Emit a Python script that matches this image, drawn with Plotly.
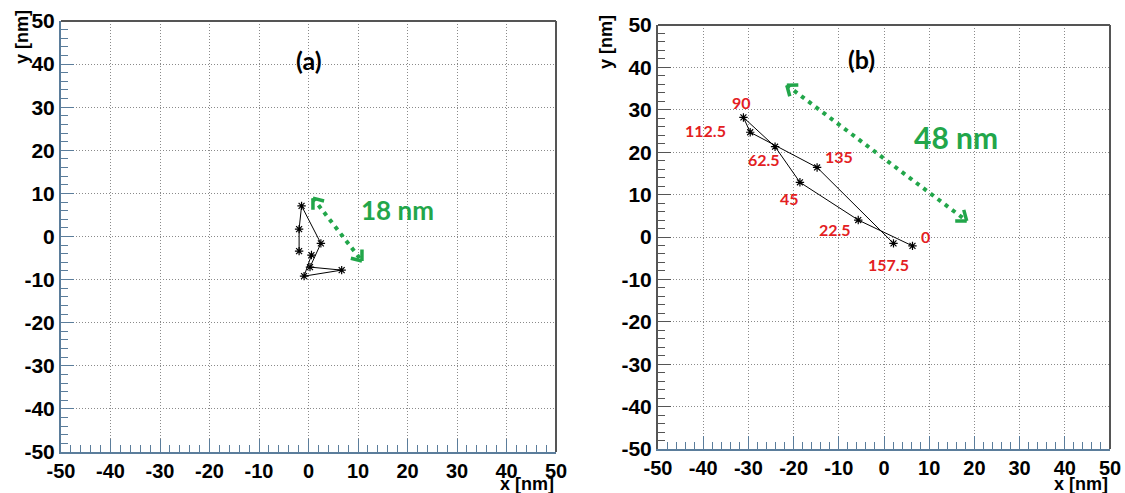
import numpy as np
import plotly.graph_objects as go

W, H = 1125, 493

# ---------------- data ----------------
# panel (a): measured positions (nm), in acquisition order
xa = [-1.9, -1.9, -1.4, 2.5, 0.3, 6.7, -0.9, 0.6]
ya = [-3.4, 1.7, 7.1, -1.6, -7.1, -7.8, -9.2, -4.3]

# panel (b): measured positions (nm), in angle order
angles_b = ["0", "22.5", "45", "62.5", "90", "112.5", "135", "157.5"]
xb = [6.3, -5.7, -18.6, -24.1, -31.1, -29.6, -14.8, 2.1]
yb = [-2.1, 4.0, 12.9, 21.3, 28.2, 24.7, 16.4, -1.5]
# label positions for the angle texts (nm)
lab_x = [9.2, -10.8, -20.8, -26.6, -31.6, -39.4, -10.0, 1.0]
lab_y = [0.2, 1.7, 9.1, 18.3, 31.8, 25.0, 19.0, -6.6]

# double arrows (nm): [x_start, y_start, x_end, y_end]
arrow_a = [0.9, 8.9, 10.8, -5.7]
arrow_b = [-21.5, 35.8, 18.3, 3.8]
size_a = "18 nm"
size_b = "48 nm"

tick_vals = list(range(-50, 51, 10))
tick_text = ["<b>%d</b>" % v for v in tick_vals]

# ---------------- layout geometry (pixels) ----------------
PA = dict(x0=61, x1=556, y0=21, y1=452)
PB = dict(x0=658, x1=1110, y0=25, y1=449)

GREEN = "#22a64a"
RED = "#e3201f"
BLUE_AX = "#5b7d9b"

fig = go.Figure()

star = dict(symbol="asterisk-open", size=7, color="black",
            line=dict(color="black", width=1.2))
fig.add_trace(go.Scatter(x=xa, y=ya, mode="lines+markers",
                         line=dict(color="black", width=1), marker=star,
                         xaxis="x", yaxis="y", showlegend=False))
fig.add_trace(go.Scatter(x=xb, y=yb, mode="lines+markers",
                         line=dict(color="black", width=1), marker=star,
                         xaxis="x2", yaxis="y2", showlegend=False))

# dotted arrow shafts
for arr, xr, yr in [(arrow_a, "x", "y"), (arrow_b, "x2", "y2")]:
    fig.add_trace(go.Scatter(x=[arr[0], arr[2]], y=[arr[1], arr[3]], mode="lines",
                             line=dict(color=GREEN, width=4, dash="4px,5px"),
                             xaxis=xr, yaxis=yr, showlegend=False, hoverinfo="skip"))


def dom(p):
    return ([p["x0"] / W, p["x1"] / W], [1 - p["y1"] / H, 1 - p["y0"] / H])


def axis_common(color_x, color_y, size):
    tf = dict(family="Liberation Sans, Arial", size=size, color="black")
    ax = dict(range=[-50, 50], tickvals=tick_vals, ticktext=tick_text,
              ticks="inside", ticklen=13, automargin=False,
              tickwidth=1, showgrid=True, gridcolor="#8a8a8a", griddash="1px,2px",
              gridwidth=1, zeroline=False, showline=True, linewidth=2,
              tickfont=tf, fixedrange=True,
              minor=dict(ticks="inside", ticklen=7, dtick=2, tick0=0, showgrid=False))
    x = dict(ax, linecolor=color_x, tickcolor=color_x)
    x["minor"] = dict(ax["minor"], tickcolor=color_x)
    y = dict(ax, linecolor=color_y, tickcolor=color_y, tickfont=dict(tf, size=21))
    y["minor"] = dict(ax["minor"], tickcolor=color_y)
    return x, y


xdA, ydA = dom(PA)
xdB, ydB = dom(PB)
xA, yA = axis_common(BLUE_AX, BLUE_AX, 20)
xB, yB = axis_common(BLUE_AX, "#555555", 20)

fig.update_layout(
    width=W, height=H, margin=dict(l=0, r=0, t=0, b=0, autoexpand=False),
    paper_bgcolor="white", plot_bgcolor="white",
    xaxis=dict(xA, domain=xdA, anchor="y"),
    yaxis=dict(yA, domain=ydA, anchor="x"),
    xaxis2=dict(xB, domain=xdB, anchor="y2"),
    yaxis2=dict(yB, domain=ydB, anchor="x2"),
)

# top / right frame lines
for xr, yr in [("x", "y"), ("x2", "y2")]:
    fig.add_shape(type="line", xref=xr + " domain", yref=yr + " domain",
                  x0=0, x1=1, y0=1, y1=1, line=dict(color="#555555", width=2))
    fig.add_shape(type="line", xref=xr + " domain", yref=yr + " domain",
                  x0=1, x1=1, y0=0, y1=1, line=dict(color="#555555", width=2))

ann = []
title_font = dict(family="Liberation Sans, Arial", size=18, color="black")
# axis titles
ann.append(dict(text="<b>y [nm]</b>", xref="paper", yref="paper", x=22 / W, y=1 - 37 / H,
                xanchor="center", yanchor="middle",
                showarrow=False, textangle=-90, font=title_font))
ann.append(dict(text="<b>y [nm]</b>", xref="paper", yref="paper", x=606 / W, y=1 - 42 / H,
                xanchor="center", yanchor="middle",
                showarrow=False, textangle=-90, font=title_font))
ann.append(dict(text="<b>x [nm]</b>", xref="paper", yref="paper", x=556 / W, y=0.0,
                xanchor="right", yanchor="bottom", yshift=-3, showarrow=False, font=title_font))
ann.append(dict(text="<b>x [nm]</b>", xref="paper", yref="paper", x=1110 / W, y=0.0,
                xanchor="right", yanchor="bottom", yshift=-3, showarrow=False, font=title_font))

lab_font = dict(family="Lato, Open Sans", size=25, color="black")
ann.append(dict(text="<b>(a)</b>", x=0.0, y=41.0, xref="x", yref="y", showarrow=False, font=lab_font))
ann.append(dict(text="<b>(b)</b>", x=-5.0, y=42.0, xref="x2", yref="y2", showarrow=False, font=lab_font))
ann.append(dict(text="<b>%s</b>" % size_a, x=18.0, y=6.2, xref="x", yref="y", showarrow=False,
                font=dict(family="Lato, Open Sans", size=26, color=GREEN)))
ann.append(dict(text="<b>%s</b>" % size_b, x=15.9, y=23.5, xref="x2", yref="y2", showarrow=False,
                font=dict(family="Lato, Open Sans", size=30, color=GREEN)))

for t, lx, ly in zip(angles_b, lab_x, lab_y):
    ann.append(dict(text="<b>%s</b>" % t, x=lx, y=ly, xref="x2", yref="y2", showarrow=False,
                    font=dict(family="Lato, Open Sans", size=16, color=RED)))


# chevron arrowheads at both ends of each double arrow
def chevrons(arr, p, xr, yr):
    sx = (p["x1"] - p["x0"]) / 100.0
    sy = (p["y1"] - p["y0"]) / 100.0
    out = []
    ends = [((arr[2], arr[3]), (arr[0], arr[1])), ((arr[0], arr[1]), (arr[2], arr[3]))]
    for (tx, ty), (fx, fy) in ends:
        dx = (tx - fx) * sx
        dy = -(ty - fy) * sy
        n = np.hypot(dx, dy)
        ux, uy = -dx / n, -dy / n
        for ang in (np.radians(38), -np.radians(38)):
            c, s = np.cos(ang), np.sin(ang)
            vx = ux * c - uy * s
            vy = ux * s + uy * c
            out.append(dict(x=tx, y=ty, xref=xr, yref=yr, ax=vx * 13, ay=vy * 13,
                            text="", showarrow=True, arrowhead=0, arrowwidth=3.5,
                            arrowcolor=GREEN, standoff=0, startstandoff=0))
    return out


ann += chevrons(arrow_a, PA, "x", "y")
ann += chevrons(arrow_b, PB, "x2", "y2")

fig.update_layout(annotations=ann)
fig.write_html("out.html", config={"displayModeBar": False},
               post_script="document.body.style.margin='0';document.body.style.padding='0';")
